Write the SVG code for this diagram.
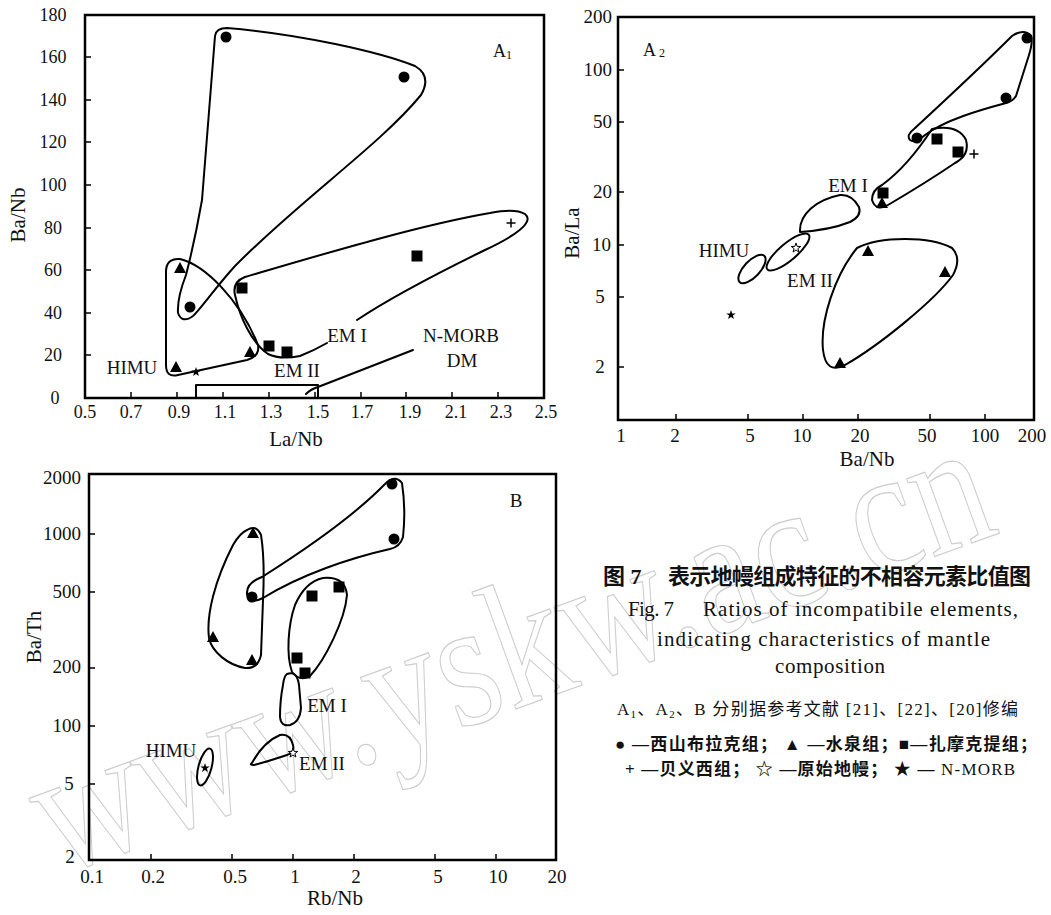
<svg xmlns="http://www.w3.org/2000/svg" xmlns:xlink="http://www.w3.org/1999/xlink" width="1051" height="915" viewBox="0 0 1051 915">
<style>
.frame{fill:none;stroke:#000;stroke-width:2.5}
.tick{stroke:#000;stroke-width:1.5;fill:none}
.ol{fill:none;stroke:#000;stroke-width:2;stroke-linejoin:round;stroke-linecap:round}
.t{font-family:"Liberation Serif","Noto Sans CJK SC",serif;fill:#111}
.tl{font-size:18px}
.tl2{font-size:19px}
.at{font-size:21px}
.lb{font-size:19px}
.mid{text-anchor:middle}
.end{text-anchor:end}
.cap{font-size:21px}
.cjk{font-family:"Liberation Serif","Noto Sans CJK SC",sans-serif;fill:#111}
.wm{font-family:"Liberation Serif",serif;fill:none;stroke:#cdcdcd;stroke-width:1.2}
</style>
<defs>
<circle id="ci" r="5.5" fill="#000"/>
<rect id="sq" x="-5.5" y="-5.5" width="11" height="11" fill="#000"/>
<path id="tr" d="M0,-6 L6,5 L-6,5 Z" fill="#000"/>
<path id="pl" d="M-4.5,0 H4.5 M0,-4.5 V4.5" stroke="#000" stroke-width="1.5" fill="none"/>
<path id="st" d="M0,-5 L1.18,-1.62 L4.76,-1.55 L1.9,0.62 L2.94,4.05 L0,2 L-2.94,4.05 L-1.9,0.62 L-4.76,-1.55 L-1.18,-1.62 Z" fill="#000"/>
<path id="ost" d="M0,-5 L1.18,-1.62 L4.76,-1.55 L1.9,0.62 L2.94,4.05 L0,2 L-2.94,4.05 L-1.9,0.62 L-4.76,-1.55 L-1.18,-1.62 Z" fill="#fff" stroke="#000" stroke-width="1"/>
</defs>
<rect width="1051" height="915" fill="#fff"/>
<g id="watermark">
<text class="wm" transform="translate(57,876) rotate(-20) scale(0.83,1)" font-size="180">www.yskw.ac.cn</text>
</g>

<!-- Panel A1 -->
<g id="panelA1">
<rect class="frame" x="85" y="15" width="459" height="383"/>
<path class="tick" d="M85,57H91 M85,100H91 M85,142H91 M85,185H91 M85,228H91 M85,270H91 M85,313H91 M85,355H91 M131,398V392 M177,398V392 M223,398V392 M269,398V392 M315,398V392 M361,398V392 M406,398V392 M452,398V392 M498,398V392"/>
<g class="t tl mid">
<text x="53" y="21">180</text><text x="53" y="63">160</text><text x="53" y="106">140</text><text x="53" y="148">120</text><text x="53" y="191">100</text><text x="53" y="234">80</text><text x="53" y="276">60</text><text x="53" y="319">40</text><text x="53" y="361">20</text><text x="55" y="404">0</text>
<text x="85" y="418">0.5</text><text x="131" y="418">0.7</text><text x="179" y="418">0.9</text><text x="225" y="418">1.1</text><text x="271" y="418">1.3</text><text x="318" y="418">1.5</text><text x="362" y="418">1.7</text><text x="410" y="418">1.9</text><text x="456" y="418">2.1</text><text x="501" y="418">2.3</text><text x="546" y="418">2.5</text>
</g>
<text class="t at mid" x="296" y="446">La/Nb</text>
<text class="t at mid" transform="translate(25,215) rotate(-90)">Ba/Nb</text>
<text class="t tl" x="493" y="57">A<tspan font-size="12" dy="2">1</tspan></text>
</g>
<g id="A1-outlines">
<path class="ol" d="M215,36 Q216,28 227,28 C300,34 380,52 415,66 Q432,76 421,95 C380,145 300,200 235,266 C215,288 200,310 193,316 Q182,324 178,313 Q177,298 186,275 Q195,240 202,200 L215,36 Z"/>
<path class="ol" d="M180,259 C205,265 240,300 258,345 Q260,356 247,360 L178,375 Q166,378 166,365 L166,272 Q166,258 180,259 Z"/>
<path class="ol" d="M357,320 C390,298 440,272 485,250 C515,236 535,222 525,214 Q515,208 490,213 C420,225 320,255 245,277 Q232,282 235,295 C240,318 252,343 268,354 Q280,360 300,356 Q315,350 327,343"/>
<path class="ol" d="M196,397 V385 H318 V397"/>
<path class="ol" d="M306,394 Q311,389 318,387 L413,350"/>
</g>
<g id="A1-points">
<use href="#ci" x="226" y="37"/><use href="#ci" x="404" y="77"/><use href="#ci" x="190" y="307"/>
<use href="#tr" x="180" y="268"/><use href="#tr" x="176" y="367"/><use href="#tr" x="250" y="352"/>
<use href="#st" x="196" y="372"/>
<use href="#sq" x="242" y="288"/><use href="#sq" x="269" y="346"/><use href="#sq" x="287" y="352"/><use href="#sq" x="417" y="256"/>
<use href="#pl" x="511" y="223"/>
</g>
<g id="A1-labels" class="t lb">
<text x="132" y="374" class="mid">HIMU</text>
<text x="347" y="342" class="mid">EM I</text>
<text x="297" y="377" class="mid">EM II</text>
<text x="461" y="342" class="mid">N-MORB</text>
<text x="462" y="367" class="mid">DM</text>
</g>

<!-- Panel A2 -->
<g id="panelA2">
<rect class="frame" x="618" y="17" width="416" height="403"/>
<path class="tick" d="M618,70H624 M618,122H624 M618,192H624 M618,245H624 M618,297H624 M618,367H624 M676,420V414 M748,420V414 M803,420V414 M858,420V414 M930,420V414 M985,420V414"/>
<g class="t tl2">
<text x="612" y="23" class="end">200</text><text x="612" y="76" class="end">100</text><text x="612" y="128" class="end">50</text><text x="612" y="198" class="end">20</text><text x="611" y="251" class="end">10</text><text x="600" y="303" class="mid">5</text><text x="600" y="373" class="mid">2</text>
<text x="621" y="442" class="mid">1</text><text x="675" y="442" class="mid">2</text><text x="750" y="442" class="mid">5</text><text x="802" y="442" class="mid">10</text><text x="860" y="442" class="mid">20</text><text x="927" y="442" class="mid">50</text><text x="985" y="442" class="mid">100</text><text x="1032" y="442" class="mid">200</text>
</g>
<text class="t at mid" x="867" y="466">Ba/Nb</text>
<text class="t at mid" transform="translate(579,233) rotate(-90)">Ba/La</text>
<text class="t tl" x="643" y="56">A<tspan font-size="12" dx="3" dy="1">2</tspan></text>
</g>
<g id="A2-outlines">
<path class="ol" d="M1012,36 Q1024,28 1031,36 Q1033,42 1029,55 L1016,96 Q1013,101 1006,103 C980,110 945,120 925,135 Q915,144 910,140 Q906,135 914,129 C940,105 980,68 1012,36 Z"/>
<path class="ol" d="M932,129 Q958,124 966,140 Q970,155 955,163 C930,180 905,195 888,205 Q876,212 872,200 Q872,190 882,185 C900,172 915,155 932,129 Z"/>
<path class="ol" d="M800,230 C800,215 815,200 840,195 Q852,194 859,207 Q862,216 850,222 C835,228 815,231 800,232 Z"/>
<ellipse class="ol" cx="788" cy="252" rx="27" ry="8.5" transform="rotate(-40 788 252)"/>
<ellipse class="ol" cx="752" cy="269" rx="18" ry="8" transform="rotate(-47 752 269)"/>
<path class="ol" d="M857,248 C880,236 930,236 952,248 Q962,258 953,275 C935,300 880,345 845,365 Q826,375 823,350 C820,320 835,275 857,248 Z"/>
</g>
<g id="A2-points">
<use href="#ci" x="1027" y="38"/><use href="#ci" x="1006" y="98"/><use href="#ci" x="917" y="138"/>
<use href="#sq" x="937" y="139"/><use href="#sq" x="958" y="152"/><use href="#sq" x="883" y="193"/>
<use href="#pl" x="974" y="154"/>
<use href="#tr" x="882" y="203"/><use href="#tr" x="868" y="251"/><use href="#tr" x="945" y="272"/><use href="#tr" x="840" y="363"/>
<use href="#ost" x="796" y="248"/>
<use href="#st" x="731" y="315"/>
</g>
<g id="A2-labels" class="t lb">
<text x="848" y="192" class="mid">EM I</text>
<text x="724" y="257" class="mid">HIMU</text>
<text x="810" y="287" class="mid">EM II</text>
</g>

<!-- Panel B -->
<g id="panelB">
<rect class="frame" x="89" y="474" width="467" height="386"/>
<path class="tick" d="M89,534H95 M89,592H95 M89,668H95 M89,726H95 M89,784H95 M151,860V854 M232,860V854 M293,860V854 M354,860V854 M435,860V854 M496,860V854"/>
<g class="t tl2">
<text x="81" y="484" class="end">2000</text><text x="81" y="540" class="end">1000</text><text x="81" y="598" class="end">500</text><text x="81" y="673" class="end">200</text><text x="81" y="732" class="end">100</text><text x="69" y="790" class="mid">5</text><text x="70" y="863" class="mid">2</text>
<text x="92" y="883" class="mid">0.1</text><text x="153" y="883" class="mid">0.2</text><text x="235" y="883" class="mid">0.5</text><text x="295" y="883" class="mid">1</text><text x="356" y="883" class="mid">2</text><text x="438" y="883" class="mid">5</text><text x="498" y="883" class="mid">10</text><text x="557" y="883" class="mid">20</text>
</g>
<text class="t at mid" x="335" y="905">Rb/Nb</text>
<text class="t at mid" transform="translate(41,637) rotate(-90)">Ba/Th</text>
<text class="t tl2 mid" x="516" y="507">B</text>
</g>
<g id="B-outlines">
<path class="ol" d="M247,530 Q256,524 261,535 Q265,560 263,600 L261,655 Q258,669 245,668 C228,665 212,652 209,638 C206,615 215,580 233,545 Q240,533 247,530 Z"/>
<path class="ol" d="M262,577 C300,553 350,520 385,484 Q395,474 402,483 Q406,510 403,537 Q400,547 390,549 C350,558 300,575 263,598 Q249,605 247,594 Q246,583 262,577 Z"/>
<path class="ol" d="M323,578 Q345,576 347,595 C345,620 325,660 310,676 Q300,682 292,672 C286,655 288,625 295,605 Q305,582 323,578 Z"/>
<path class="ol" d="M287,674 Q297,670 299,685 L301,708 Q300,722 290,725 Q281,727 280,717 Q280,700 283,685 Q284,676 287,674 Z"/>
<path class="ol" d="M252,763 C258,752 268,740 280,735 Q290,733 293,745 Q295,753 287,755 C275,759 262,763 254,765 Q249,765 252,763 Z"/>
<ellipse class="ol" cx="205" cy="767" rx="6.5" ry="19" transform="rotate(15 205 767)"/>
</g>
<g id="B-points">
<use href="#tr" x="253" y="533"/><use href="#tr" x="213" y="637"/><use href="#tr" x="252" y="660"/>
<use href="#ci" x="252" y="597"/><use href="#ci" x="392" y="484"/><use href="#ci" x="394" y="539"/>
<use href="#sq" x="312" y="596"/><use href="#sq" x="339" y="587"/><use href="#sq" x="297" y="658"/><use href="#sq" x="305" y="673"/>
<use href="#st" x="205" y="768"/>
<use href="#ost" x="293" y="753"/>
</g>
<g id="B-labels" class="t lb">
<text x="171" y="757" class="mid">HIMU</text>
<text x="327" y="712" class="mid">EM I</text>
<text x="322" y="770" class="mid">EM II</text>
</g>

<!-- Caption -->
<g id="caption">
<text class="cjk" font-size="22" font-weight="bold" x="603" y="584">图 7</text>
<text class="cjk" font-size="22" font-weight="bold" x="668" y="584" textLength="363" lengthAdjust="spacing">表示地幔组成特征的不相容元素比值图</text>
<text class="t cap" y="616"><tspan x="628" textLength="46" lengthAdjust="spacing">Fig. 7</tspan><tspan x="703" textLength="315" lengthAdjust="spacing">Ratios of incompatibile elements,</tspan></text>
<text class="t cap" x="657" y="646" textLength="333" lengthAdjust="spacing">indicating characteristics of mantle</text>
<text class="t cap" x="775" y="673" textLength="110" lengthAdjust="spacing">composition</text>
<text class="cjk" font-size="17" x="617" y="715" textLength="401" lengthAdjust="spacing">A<tspan font-size="11" dy="3">1</tspan><tspan dy="-3">、A</tspan><tspan font-size="11" dy="3">2</tspan><tspan dy="-3">、B 分别据参考文献 [21]、[22]、[20]修编</tspan></text>
<text class="cjk" font-size="17" font-weight="bold" x="615" y="750" textLength="422" lengthAdjust="spacing">● —西山布拉克组； ▲ —水泉组；■—扎摩克提组；</text>
<text class="cjk" font-size="17" x="625" y="775" textLength="390" lengthAdjust="spacing"><tspan font-weight="bold">+ —贝义西组； ☆ —原始地幔； ★ —</tspan> N-MORB</text>
</g>
</svg>
